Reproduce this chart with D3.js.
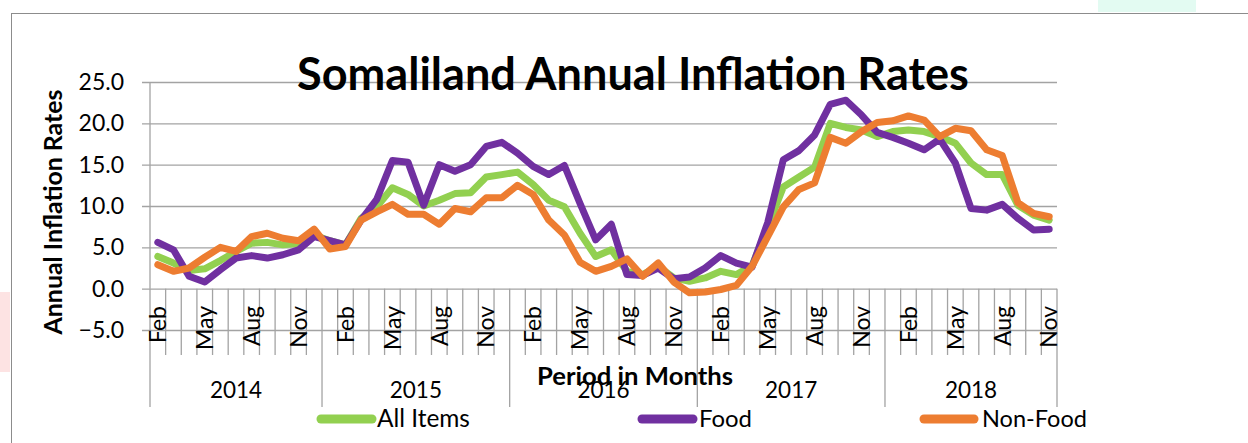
<!DOCTYPE html>
<html>
<head>
<meta charset="utf-8">
<script src="https://cdn.jsdelivr.net/npm/d3@7"></script>
<style>
  body { margin: 0; background: #fff; }
  svg { display: block; font-family: Lato, "Open Sans", sans-serif; }
</style>
</head>
<body>
<svg width="1248" height="443"></svg>
<script>
// Data
var years = ["2014", "2015", "2016", "2017", "2018"];
var monthNames = ["Jan", "Feb", "Mar", "Apr", "May", "Jun", "Jul", "Aug", "Sep", "Oct", "Nov", "Dec"];
var firstPeriod = { year: "2014", month: "Feb" };
var lastPeriod = { year: "2018", month: "Nov" };
var yTicks = [-5, 0, 5, 10, 15, 20, 25];

var allItems = [3.9, 3.1, 2.2, 2.4, 3.4, 4.5, 5.5, 5.6, 5.3, 5.5, 6.5,
	5.8, 5.3, 8.5, 9.9, 12.2, 11.4, 10.0, 10.7, 11.5, 11.6, 13.5, 13.8,
	14.1, 12.6, 10.7, 9.9, 6.7, 3.9, 4.7, 2.1, 1.7, 2.7, 1.3, 0.9,
	1.3, 2.1, 1.7, 2.8, 7.5, 12.3, 13.5, 14.7, 20.0, 19.5, 19.2, 18.4,
	19.0, 19.2, 19.0, 18.4, 17.6, 15.2, 13.8, 13.8, 10.1, 8.9, 8.3];
var food = [5.6, 4.7, 1.5, 0.8, 2.3, 3.7, 4.0, 3.7, 4.1, 4.7, 6.3,
	5.8, 5.3, 8.3, 10.8, 15.5, 15.3, 10.1, 15.0, 14.2, 15.0, 17.2, 17.7,
	16.4, 14.8, 13.8, 14.9, 10.3, 5.9, 7.8, 1.7, 1.6, 2.5, 1.2, 1.4,
	2.5, 4.0, 3.1, 2.6, 8.0, 15.6, 16.7, 18.6, 22.3, 22.8, 21.0, 18.9,
	18.3, 17.6, 16.8, 18.1, 15.2, 9.7, 9.5, 10.2, 8.5, 7.1, 7.2];
var nonFood = [2.9, 2.1, 2.5, 3.8, 5.0, 4.5, 6.3, 6.7, 6.1, 5.8, 7.2,
	4.8, 5.1, 8.3, 9.3, 10.2, 9.0, 9.0, 7.8, 9.7, 9.3, 11.0, 11.0,
	12.5, 11.4, 8.3, 6.5, 3.2, 2.1, 2.7, 3.6, 1.5, 3.1, 0.8, -0.5,
	-0.4, -0.1, 0.4, 2.7, 6.3, 9.9, 12.0, 12.8, 18.3, 17.6, 19.0, 20.1,
	20.3, 20.9, 20.4, 18.4, 19.4, 19.1, 16.8, 16.1, 10.4, 9.1, 8.7];

var series = [
	{ name: "All Items", values: allItems, color: "#92D050" },
	{ name: "Food", values: food, color: "#7030A0" },
	{ name: "Non-Food", values: nonFood, color: "#ED7D31" }
];

// build the month/year categories
var periods = [];
years.forEach(function (y) {
	monthNames.forEach(function (m, i) {
		if (y == firstPeriod.year && i < monthNames.indexOf(firstPeriod.month)) return;
		if (y == lastPeriod.year && i > monthNames.indexOf(lastPeriod.month)) return;
		periods.push({ key: m + " " + y, month: m, year: y });
	});
});

var svg = d3.select("svg");
var grid = "#a3a3a3";

// background bits of the original screenshot
svg.append("rect").attr("x", 0).attr("y", 292).attr("width", 10).attr("height", 80).attr("fill", "#fde3e3");
svg.append("rect").attr("x", 1098).attr("y", 0).attr("width", 98).attr("height", 12).attr("fill", "#e3fbf2");
svg.append("rect").attr("x", 11.5).attr("y", 13.5).attr("width", 1300).attr("height", 500)
	.attr("fill", "none").attr("stroke", "#8c8c8c");

var x = d3.scaleBand()
	.domain(periods.map(function (d) { return d.key; }))
	.range([150, 1057])
	.padding(0);

var y = d3.scaleLinear()
	.domain([-5, 25])
	.range([330, 82]);

// gridlines + y labels
var yAxis = svg.append("g")
	.attr("transform", "translate(150,0)")
	.call(d3.axisLeft(y).tickValues(yTicks).tickFormat(d3.format(".1f"))
		.tickSize(8).tickSizeOuter(0).tickPadding(18));
yAxis.select(".domain").remove();
yAxis.selectAll("line").attr("x2", -8).attr("x1", 907).attr("stroke", grid).attr("stroke-width", 1.3);
yAxis.selectAll("text").attr("font-size", 23).attr("fill", "#000").attr("font-family", "Lato");

// category axis: boundaries, month labels, year groups
var bw = x.bandwidth();
var cat = svg.append("g");
cat.selectAll("line.tick")
	.data(periods)
	.enter()
	.append("line")
	.attr("class", "tick")
	.attr("x1", function (d) { return x(d.key); })
	.attr("x2", function (d) { return x(d.key); })
	.attr("y1", y(0))
	.attr("y2", function (d, i) { return (i == 0 || d.month == "Jan") ? 407 : 355; })
	.attr("stroke", grid).attr("stroke-width", 1.3);
cat.append("line")
	.attr("x1", x.range()[1]).attr("x2", x.range()[1])
	.attr("y1", y(0)).attr("y2", 407)
	.attr("stroke", grid).attr("stroke-width", 1.3);
// vertical axis line
cat.append("line")
	.attr("x1", 150).attr("x2", 150).attr("y1", y(25)).attr("y2", y(0))
	.attr("stroke", grid).attr("stroke-width", 1.3);

cat.selectAll("text.month")
	.data(periods.filter(function (d, i) { return i % 3 == 0; }))
	.enter()
	.append("text")
	.attr("class", "month")
	.attr("transform", function (d) { return "translate(" + (x(d.key) + bw / 2) + ",306) rotate(-90)"; })
	.attr("dy", "0.36em")
	.attr("text-anchor", "end")
	.attr("font-size", 23)
	.text(function (d) { return d.month; });

cat.selectAll("text.year")
	.data(years)
	.enter()
	.append("text")
	.attr("class", "year")
	.attr("x", function (yr) {
		var ps = periods.filter(function (p) { return p.year == yr; });
		return (x(ps[0].key) + x(ps[ps.length - 1].key) + bw) / 2;
	})
	.attr("y", 398)
	.attr("text-anchor", "middle")
	.attr("font-size", 22.5)
	.text(function (d) { return d; });

// lines
var line = d3.line()
	.x(function (d, i) { return x(periods[i].key) + bw / 2; })
	.y(function (d) { return y(d); });

svg.append("g")
	.selectAll("path")
	.data(series)
	.enter()
	.append("path")
	.attr("d", function (s) { return line(s.values); })
	.attr("fill", "none")
	.attr("stroke", function (s) { return s.color; })
	.attr("stroke-width", 7)
	.attr("stroke-linejoin", "round")
	.attr("stroke-linecap", "round");

function fit(sel, w) {
	var fs = +sel.attr("font-size");
	var len = sel.node().getComputedTextLength();
	sel.attr("font-size", fs * w / len);
}

var title = svg.append("text")
	.attr("x", 633).attr("y", 90)
	.attr("text-anchor", "middle")
	.attr("font-size", 42).attr("font-weight", "bold")
	.text("Somaliland Annual Inflation Rates");
fit(title, 672);

var yTitle = svg.append("text")
	.attr("transform", "translate(62,212) rotate(-90)")
	.attr("text-anchor", "middle")
	.attr("font-size", 21).attr("font-weight", "bold")
	.text("Annual Inflation Rates");
fit(yTitle, 245);

var xTitle = svg.append("text")
	.attr("x", 635).attr("y", 385)
	.attr("text-anchor", "middle")
	.attr("font-size", 21).attr("font-weight", "bold")
	.text("Period  in Months");
fit(xTitle, 196);

// legend
var legendPos = [{ x1: 321, x2: 372, tx: 377, w: 93 },
	{ x1: 642, x2: 693, tx: 699, w: 53 },
	{ x1: 924, x2: 974, tx: 982, w: 105 }];
var legend = svg.append("g");
series.forEach(function (s, i) {
	var p = legendPos[i];
	legend.append("line")
		.attr("x1", p.x1).attr("x2", p.x2).attr("y1", 419).attr("y2", 419)
		.attr("stroke", s.color).attr("stroke-width", 9).attr("stroke-linecap", "round");
	var t = legend.append("text")
		.attr("x", p.tx).attr("y", 427)
		.attr("font-size", 21)
		.text(s.name);
	fit(t, p.w);
});
</script>
</body>
</html>
